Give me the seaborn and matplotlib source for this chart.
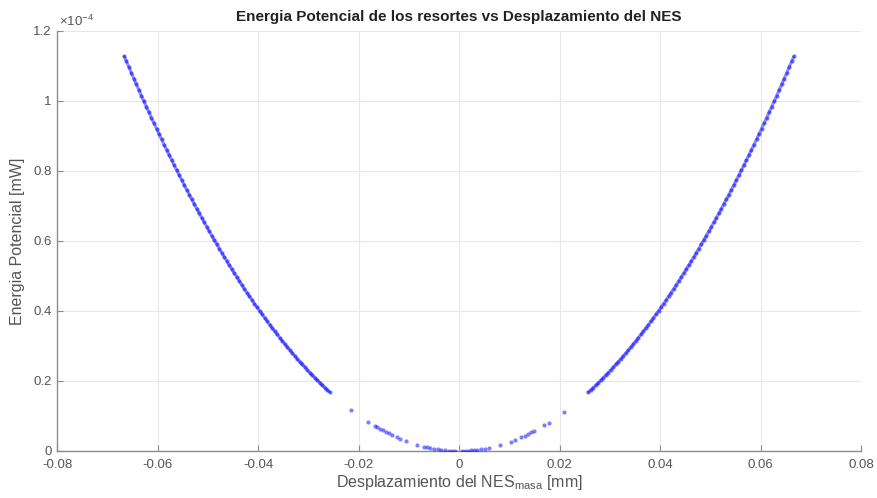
import numpy as np
import pandas as pd
import matplotlib
matplotlib.use("Agg")
import matplotlib.pyplot as plt
import seaborn as sns

# Displacement magnitude along the two outer branches [mm]
desp_rama = [
    0.0257, 0.0262, 0.0267, 0.0272, 0.0277, 0.0282, 0.0287, 0.0292, 0.0297, 0.0302,
    0.0307, 0.0312, 0.0317, 0.0322, 0.0327, 0.0332, 0.0337, 0.0342, 0.0347, 0.0352,
    0.0357, 0.0362, 0.0367, 0.0372, 0.0377, 0.0382, 0.0387, 0.0392, 0.0397, 0.0402,
    0.0407, 0.0412, 0.0417, 0.0422, 0.0427, 0.0432, 0.0437, 0.0442, 0.0447, 0.0452,
    0.0457, 0.0462, 0.0467, 0.0472, 0.0477, 0.0482, 0.0487, 0.0492, 0.0497, 0.0502,
    0.0507, 0.0512, 0.0517, 0.0522, 0.0527, 0.0532, 0.0537, 0.0542, 0.0547, 0.0552,
    0.0557, 0.0562, 0.0567, 0.0572, 0.0577, 0.0582, 0.0587, 0.0592, 0.0597, 0.0602,
    0.0607, 0.0612, 0.0617, 0.0622, 0.0627, 0.0632, 0.0637, 0.0642, 0.0647, 0.0652,
    0.0657, 0.0662, 0.0666,
]
# Potential energy on the outer branches [x1e-4 mW]
energia_rama = [
    0.1678, 0.1744, 0.1812, 0.1880, 0.1950, 0.2021, 0.2093, 0.2167, 0.2241, 0.2318,
    0.2395, 0.2474, 0.2553, 0.2635, 0.2717, 0.2801, 0.2886, 0.2972, 0.3060, 0.3148,
    0.3239, 0.3330, 0.3423, 0.3516, 0.3612, 0.3708, 0.3806, 0.3905, 0.4005, 0.4106,
    0.4209, 0.4313, 0.4419, 0.4525, 0.4633, 0.4742, 0.4853, 0.4964, 0.5077, 0.5191,
    0.5307, 0.5424, 0.5542, 0.5661, 0.5782, 0.5903, 0.6027, 0.6151, 0.6277, 0.6403,
    0.6532, 0.6661, 0.6792, 0.6924, 0.7057, 0.7192, 0.7328, 0.7465, 0.7603, 0.7743,
    0.7883, 0.8026, 0.8169, 0.8314, 0.8460, 0.8607, 0.8756, 0.8905, 0.9056, 0.9209,
    0.9362, 0.9517, 0.9673, 0.9831, 0.9989, 1.0149, 1.0311, 1.0473, 1.0637, 1.0802,
    1.0968, 1.1136, 1.1271,
]
# Sparse samples near the equilibrium position
desp_centro = [
    -0.0215, -0.0182, -0.0168, -0.0163, -0.0158, -0.0152, -0.0146, -0.0140, -0.0134,
    -0.0124, -0.0118, -0.0106, -0.0084, -0.0070, -0.0064, -0.0058, -0.0050, -0.0042,
    -0.0036, -0.0028, -0.0020, -0.0014, -0.0008,
    0.0006, 0.0012, 0.0018, 0.0024, 0.0030, 0.0036, 0.0044, 0.0052, 0.0060, 0.0082,
    0.0104, 0.0112, 0.0124, 0.0132, 0.0138, 0.0144, 0.0150, 0.0170, 0.0179, 0.0209,
]
energia_centro = [
    0.117, 0.084, 0.072, 0.068, 0.063, 0.059, 0.054, 0.050, 0.046,
    0.039, 0.035, 0.029, 0.018, 0.012, 0.010, 0.0085, 0.0064, 0.0045,
    0.0033, 0.0020, 0.0010, 0.0005, 0.0002,
    0.0001, 0.0004, 0.0008, 0.0015, 0.0023, 0.0033, 0.0049, 0.0069, 0.0091, 0.017,
    0.027, 0.032, 0.039, 0.044, 0.048, 0.053, 0.057, 0.073, 0.081, 0.111,
]

x_ticks = [-0.08, -0.06, -0.04, -0.02, 0, 0.02, 0.04, 0.06, 0.08]
x_tick_labels = ["-0.08", "-0.06", "-0.04", "-0.02", "0", "0.02", "0.04", "0.06", "0.08"]
y_ticks = [0, 0.2, 0.4, 0.6, 0.8, 1.0, 1.2]
y_tick_labels = ["0", "0.2", "0.4", "0.6", "0.8", "1", "1.2"]

rama = np.array(desp_rama)
e_rama = np.array(energia_rama) * 1e-4
df_izq = pd.DataFrame({"desp": -rama, "energia": e_rama})
df_der = pd.DataFrame({"desp": rama, "energia": e_rama})
df_cen = pd.DataFrame({"desp": desp_centro, "energia": np.array(energia_centro) * 1e-4})
df_all = pd.concat([df_izq, df_der, df_cen], ignore_index=True)

sns.set_theme(style="white")
plt.rcParams["font.family"] = ["Liberation Sans", "DejaVu Sans"]
plt.rcParams["mathtext.fontset"] = "custom"
plt.rcParams["mathtext.rm"] = "Liberation Sans"
plt.rcParams["mathtext.it"] = "Liberation Sans:italic"

AZUL = "#0000ff"

fig = plt.figure(figsize=(8.77, 4.98), dpi=100)
ax = fig.add_axes([0.065, 0.0944, 0.9168, 0.8434])

# dense outer branches: faint trace under the samples
for df_b in (df_izq, df_der):
    sns.lineplot(data=df_b, x="desp", y="energia", ax=ax, color=AZUL, linewidth=2.2,
                 alpha=0.45, sort=True, estimator=None, zorder=2)
sns.scatterplot(data=df_all, x="desp", y="energia", ax=ax, marker="o", s=9,
                color=AZUL, alpha=0.5, linewidth=0, zorder=3)

ax.set_xlim(-0.08, 0.08)
ax.set_ylim(0, 1.2e-4)
ax.set_xticks(x_ticks)
ax.set_xticklabels(x_tick_labels)
ax.set_yticks([v * 1e-4 for v in y_ticks])
ax.set_yticklabels(y_tick_labels)

ax.text(0.002, 1.004, r"$\times10^{-4}$", transform=ax.transAxes, ha="left", va="bottom",
        fontsize=9.5, color="#555555")

ax.grid(True, color="#e8e8e8", linewidth=0.8)
ax.set_axisbelow(True)
for side in ["top", "right"]:
    ax.spines[side].set_visible(False)
for side in ["left", "bottom"]:
    ax.spines[side].set_color("#8c8c8c")
    ax.spines[side].set_linewidth(1.0)
ax.tick_params(axis="both", direction="in", length=4, width=0.8, color="#8c8c8c",
               labelsize=9.5, labelcolor="#555555")
ax.tick_params(axis="x", bottom=True, pad=6)
ax.tick_params(axis="y", left=True, pad=4)

ax.set_title("Energia Potencial de los resortes vs Desplazamiento del NES",
             fontsize=11, fontweight="bold", color="#222222", pad=7)
ax.set_xlabel(r"Desplazamiento del NES$_{\mathrm{masa}}$ [mm]", fontsize=11.5,
              color="#555555", labelpad=1)
ax.set_ylabel("Energia Potencial [mW]", fontsize=11.5, color="#555555", labelpad=6)

fig.savefig("out.png", dpi=100)
